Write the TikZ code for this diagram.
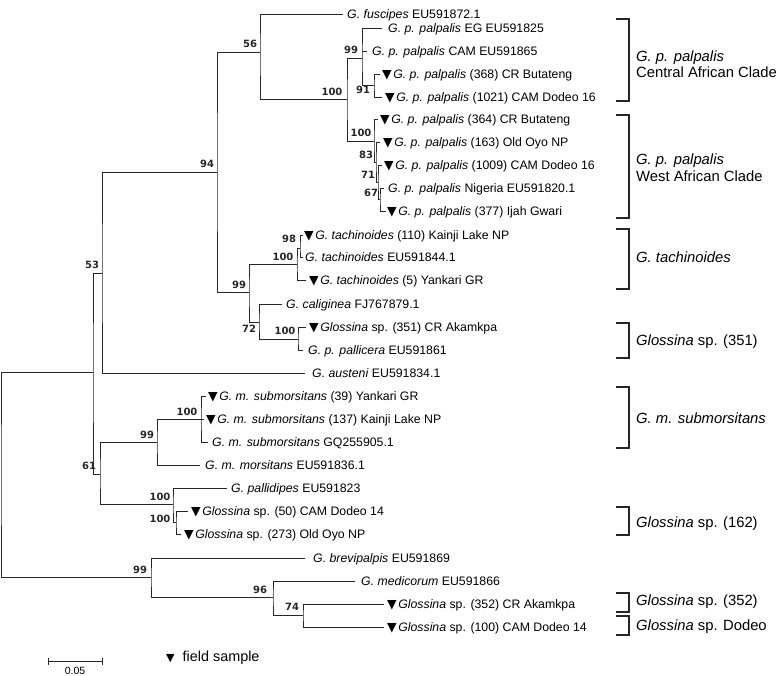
\documentclass[tikz,border=0pt]{standalone}
\usepackage{fontspec}
\setmainfont{Liberation Sans}
\newfontfamily\dejavu{DejaVu Sans}
\newcommand{\tri}{{\dejavu\fontsize{12.5}{12.5}\selectfont ▼}\hspace{1.5pt}}
\tikzset{
  tree/.style={draw=black!85, line width=0.9pt},
  brk/.style={draw=black!85, line width=1.3pt},
  leaf/.style={anchor=west, inner sep=0pt, font=\fontsize{12.3}{14}\selectfont, text height=8.8pt, text depth=0pt},
  boot/.style={inner sep=0pt, font=\dejavu\bfseries\fontsize{10}{10}\selectfont, text=black!85},
  clade/.style={anchor=west, inner sep=0pt, font=\fontsize{14.8}{16.5}\selectfont, align=left}
}
\begin{document}
\begin{tikzpicture}[x=1pt,y=-1pt]
\useasboundingbox (0,0) rectangle (778,676);
% internal nodes
\coordinate (R) at (1,475);
\coordinate (A) at (93,372);
\coordinate (N53) at (102,273);
\coordinate (N94) at (217,172);
\coordinate (N56) at (260,52);
\coordinate (N100p) at (347,99);
\coordinate (N99c) at (362,58);
\coordinate (N91) at (374,85);
\coordinate (N100w) at (374,141);
\coordinate (N83) at (376,162);
\coordinate (N71) at (378,182);
\coordinate (N67) at (380,199);
\coordinate (N99t) at (249,292);
\coordinate (N100t) at (297,264);
\coordinate (N98) at (300,248);
\coordinate (N72) at (259,322);
\coordinate (N100s) at (298,339);
\coordinate (N61) at (100,474);
\coordinate (N99m) at (157,442);
\coordinate (N100m) at (201,419);
\coordinate (N100g) at (173,504);
\coordinate (N100h) at (176,522);
\coordinate (N99b) at (151,577);
\coordinate (N96) at (273,597);
\coordinate (N74) at (303,615);
% leaf ends
\coordinate (e1) at (343,14);
\coordinate (e2) at (382,28.5);
\coordinate (e3) at (367,51);
\coordinate (e4) at (380,74);
\coordinate (e5) at (382,97);
\coordinate (e6) at (378,119);
\coordinate (e7) at (380,142);
\coordinate (e8) at (382,165);
\coordinate (e9) at (384,188);
\coordinate (e10) at (386,211);
\coordinate (e11) at (303,235);
\coordinate (e12) at (303,257);
\coordinate (e13) at (306,280);
\coordinate (e14) at (282,304);
\coordinate (e15) at (306,327);
\coordinate (e16) at (303,350);
\coordinate (e17) at (305,373);
\coordinate (e18) at (206,396);
\coordinate (e19) at (204,419);
\coordinate (e20) at (208,442);
\coordinate (e21) at (200,465);
\coordinate (e22) at (227,488);
\coordinate (e23) at (188,511);
\coordinate (e24) at (181,534);
\coordinate (e25) at (305,558);
\coordinate (e26) at (355,581);
\coordinate (e27) at (384,604);
\coordinate (e28) at (384,627);
% branches
\draw[tree] (A) -| (R) |- (N99b);
\draw[tree] (N53) -| (A) |- (N61);
\draw[tree] (N94) -| (N53) |- (e17);
\draw[tree] (N56) -| (N94) |- (N99t);
\draw[tree] (e1) -| (N56) |- (N100p);
\draw[tree] (N99c) -| (N100p) |- (N100w);
\draw[tree] (e2) -| (N99c) |- (N91);
\draw[tree] (N99c |- e3) -- (e3);
\draw[tree] (e4) -| (N91) |- (e5);
\draw[tree] (e6) -| (N100w) |- (N83);
\draw[tree] (e7) -| (N83) |- (N71);
\draw[tree] (e8) -| (N71) |- (N67);
\draw[tree] (e9) -| (N67) |- (e10);
\draw[tree] (N100t) -| (N99t) |- (N72);
\draw[tree] (N98) -| (N100t) |- (e13);
\draw[tree] (e11) -| (N98) |- (e12);
\draw[tree] (e14) -| (N72) |- (N100s);
\draw[tree] (e15) -| (N100s) |- (e16);
\draw[tree] (N99m) -| (N61) |- (N100g);
\draw[tree] (N100m) -| (N99m) |- (e21);
\draw[tree] (e18) -| (N100m) |- (e20);
\draw[tree] (N100m) -- (e19);
\draw[tree] (e22) -| (N100g) |- (N100h);
\draw[tree] (e23) -| (N100h) |- (e24);
\draw[tree] (e25) -| (N99b) |- (N96);
\draw[tree] (e26) -| (N96) |- (N74);
\draw[tree] (e27) -| (N74) |- (e28);
% leaf labels
\node[leaf] (l1) at (347,14) {\textit{G. fuscipes} EU591872.1};
\node[leaf] (l2) at (388,28.5) {\textit{G. p. palpalis} EG EU591825};
\node[leaf] (l3) at (372,51) {\textit{G. p. palpalis} CAM EU591865};
\node[leaf] (l4) at (382,74) {\tri\textit{G. p. palpalis} (368) CR Butateng};
\node[leaf] (l5) at (385,97) {\tri\textit{G. p. palpalis} (1021) CAM Dodeo 16};
\node[leaf] (l6) at (380,119) {\tri\textit{G. p. palpalis} (364) CR Butateng};
\node[leaf] (l7) at (383,142) {\tri\textit{G. p. palpalis} (163) Old Oyo NP};
\node[leaf] (l8) at (384,165) {\tri\textit{G. p. palpalis} (1009) CAM Dodeo 16};
\node[leaf] (l9) at (388,188) {\textit{G. p. palpalis} Nigeria EU591820.1};
\node[leaf] (l10) at (387,211) {\tri\textit{G. p. palpalis} (377) Ijah Gwari};
\node[leaf] (l11) at (304,235) {\tri\textit{G. tachinoides} (110) Kainji Lake NP};
\node[leaf] (l12) at (305,257) {\textit{G. tachinoides} EU591844.1};
\node[leaf] (l13) at (309,280) {\tri\textit{G. tachinoides} (5) Yankari GR};
\node[leaf] (l14) at (286,304) {\textit{G. caliginea} FJ767879.1};
\node[leaf] (l15) at (309,327) {\tri\textit{Glossina} sp. (351) CR Akamkpa};
\node[leaf] (l16) at (308,350) {\textit{G. p. pallicera} EU591861};
\node[leaf] (l17) at (312,373) {\textit{G. austeni} EU591834.1};
\node[leaf] (l18) at (208,396) {\tri\textit{G. m. submorsitans} (39) Yankari GR};
\node[leaf] (l19) at (206,419) {\tri\textit{G. m. submorsitans} (137) Kainji Lake NP};
\node[leaf] (l20) at (212,442) {\textit{G. m. submorsitans} GQ255905.1};
\node[leaf] (l21) at (205,465) {\textit{G. m. morsitans} EU591836.1};
\node[leaf] (l22) at (231,488) {\textit{G. pallidipes} EU591823};
\node[leaf] (l23) at (191,511) {\tri\textit{Glossina} sp. (50) CAM Dodeo 14};
\node[leaf] (l24) at (184,534) {\tri\textit{Glossina} sp. (273) Old Oyo NP};
\node[leaf] (l25) at (313,558) {\textit{G. brevipalpis} EU591869};
\node[leaf] (l26) at (361,581) {\textit{G. medicorum} EU591866};
\node[leaf] (l27) at (387,604) {\tri\textit{Glossina} sp. (352) CR Akamkpa};
\node[leaf] (l28) at (387,627) {\tri\textit{Glossina} sp. (100) CAM Dodeo 14};
% bootstrap values
\node[boot] (b56) at (250,44) {56};
\node[boot] (b100p) at (332,92) {100};
\node[boot] (b99c) at (351,50) {99};
\node[boot] (b91) at (363,90) {91};
\node[boot] (b100w) at (361,133) {100};
\node[boot] (b83) at (366,155) {83};
\node[boot] (b71) at (368,175) {71};
\node[boot] (b67) at (371,193) {67};
\node[boot] (b94) at (207,164) {94};
\node[boot] (b99t) at (239,285) {99};
\node[boot] (b100t) at (283,257) {100};
\node[boot] (b98) at (289,239) {98};
\node[boot] (b72) at (249,329) {72};
\node[boot] (b100s) at (285,331) {100};
\node[boot] (b53) at (92,265) {53};
\node[boot] (b61) at (89,466) {61};
\node[boot] (b99m) at (147,435) {99};
\node[boot] (b100m) at (187,412) {100};
\node[boot] (b100g) at (160,497) {100};
\node[boot] (b100h) at (160,519) {100};
\node[boot] (b99b) at (140,570) {99};
\node[boot] (b96) at (260,590) {96};
\node[boot] (b74) at (292,607) {74};
% clade brackets
\foreach \t/\b in {19/101, 115/218, 229/289, 323/358, 387/448, 507/535, 593/612, 616/635}{
  \draw[brk] (616,\t) -- (629,\t) -- (629,\b) -- (616,\b);
}
\node[clade] (c1) at (636,64) {\textit{G. p. palpalis}\\Central African Clade};
\node[clade] (c2) at (636,167.5) {\textit{G. p. palpalis}\\West African Clade};
\node[clade] (c3) at (636,257) {\textit{G. tachinoides}};
\node[clade] (c4) at (636,342) {\textit{Glossina} sp. (351)};
\node[clade] (c5) at (636,418) {\textit{G. m. submorsitans}};
\node[clade] (c6) at (636,524) {\textit{Glossina} sp. (162)};
\node[clade] (c7) at (636,602) {\textit{Glossina} sp. (352)};
\node[clade] (c8) at (636,627) {\textit{Glossina} sp. Dodeo};
% scale bar
\coordinate (s1) at (48,661);
\coordinate (s2) at (102,661);
\draw[tree] (s1) -- (s2);
\draw[tree] ([yshift=-3.5pt]s1) -- ([yshift=3.5pt]s1);
\draw[tree] ([yshift=-3.5pt]s2) -- ([yshift=3.5pt]s2);
\node[inner sep=0pt, font=\fontsize{10.5}{11}\selectfont] (sc) at (75,671) {0.05};
% legend
\node[anchor=west, inner sep=0pt, font=\fontsize{14.4}{16}\selectfont] (fs) at (166,658) {{\dejavu\fontsize{11}{11}\selectfont ▼}\hspace{8pt}field sample};
\end{tikzpicture}
\end{document}
